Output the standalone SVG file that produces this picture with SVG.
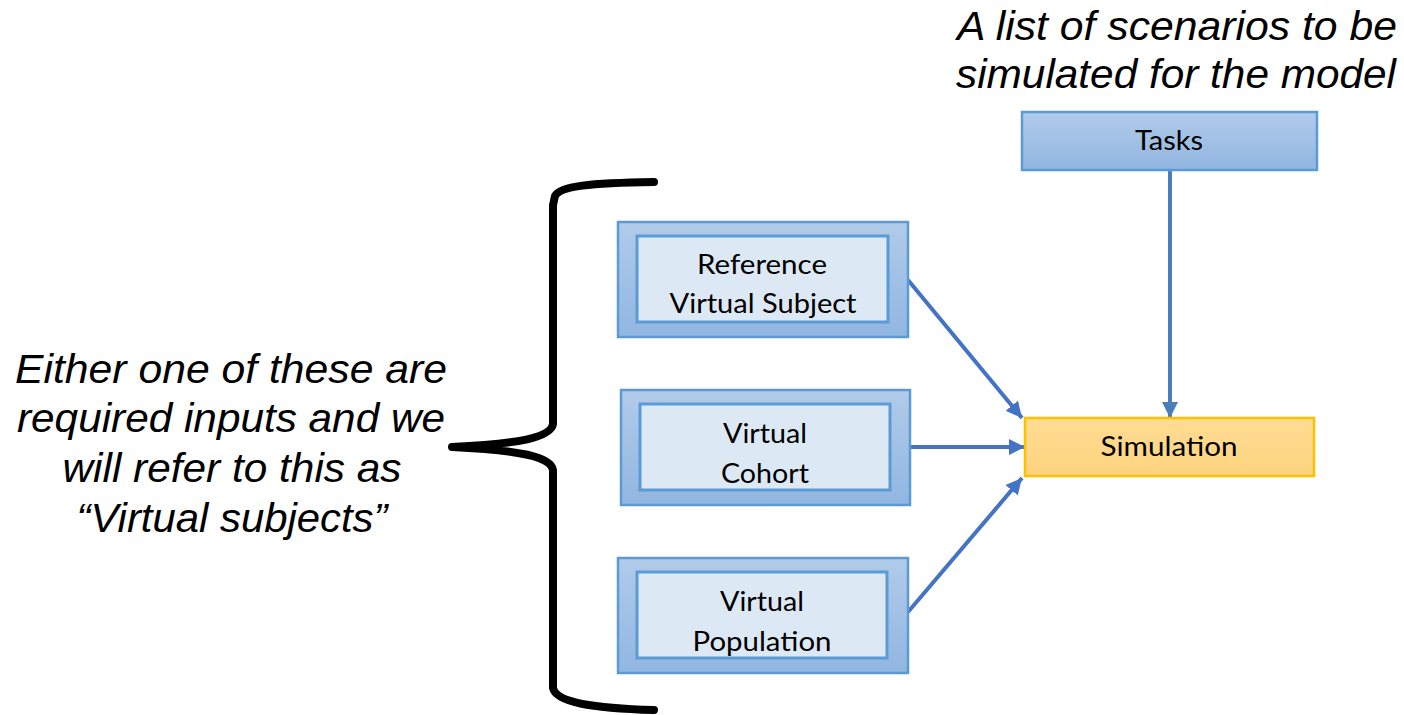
<svg xmlns="http://www.w3.org/2000/svg" width="1404" height="715" viewBox="0 0 1404 715">
  <defs>
    <linearGradient id="blueGrad" x1="0" y1="0" x2="0" y2="1">
      <stop offset="0" stop-color="#b1cbe9"/>
      <stop offset="1" stop-color="#91b6e1"/>
    </linearGradient>
    <linearGradient id="goldGrad" x1="0" y1="0" x2="0" y2="1">
      <stop offset="0" stop-color="#ffdc93"/>
      <stop offset="1" stop-color="#fdd47f"/>
    </linearGradient>
    <marker id="arrowHead" viewBox="0 0 10 10" refX="10" refY="5" markerWidth="4" markerHeight="4" orient="auto" markerUnits="strokeWidth">
      <path d="M0,0 L10,5 L0,10 z" fill="#4472c4"/>
    </marker>
    <marker id="arrowHeadTask" viewBox="0 0 10 10" refX="10" refY="5" markerWidth="4" markerHeight="4" orient="auto" markerUnits="strokeWidth">
      <path d="M0,0 L10,5 L0,10 z" fill="#4a7ebb"/>
    </marker>
    <style>
      .outer { fill: url(#blueGrad); stroke: #5b9bd5; stroke-width: 2.5; }
      .inner { fill: #dde8f5; stroke: #5b9bd5; stroke-width: 3; }
      .task { fill: url(#blueGrad); stroke: #5b9bd5; stroke-width: 2.5; }
      .sim { fill: url(#goldGrad); stroke: #ffc000; stroke-width: 2.5; }
      .lbl { font-family: Lato, "Open Sans", "Liberation Sans", sans-serif; font-size: 26px; fill: #000; text-anchor: middle; }
      .note { font-family: "Liberation Sans", Arial, sans-serif; font-style: italic; font-size: 40px; fill: #000; text-anchor: middle; }
      .link { fill: none; stroke: #4472c4; stroke-width: 4; marker-end: url(#arrowHead); }
      .linkTask { fill: none; stroke: #4a7ebb; stroke-width: 4; marker-end: url(#arrowHeadTask); }
      .brace { fill: none; stroke: #000; stroke-width: 8; stroke-linecap: round; stroke-linejoin: round; }
    </style>
  </defs>

  <!-- annotations -->
  <g id="note-tasks">
    <text class="note" x="1177" y="40" textLength="440" lengthAdjust="spacingAndGlyphs">A list of scenarios to be</text>
    <text class="note" x="1176" y="88" textLength="440" lengthAdjust="spacingAndGlyphs">simulated for the model</text>
  </g>
  <g id="note-subjects">
    <text class="note" x="231" y="383" textLength="432" lengthAdjust="spacingAndGlyphs">Either one of these are</text>
    <text class="note" x="231" y="432" textLength="428" lengthAdjust="spacingAndGlyphs">required inputs and we</text>
    <text class="note" x="232" y="482" textLength="339" lengthAdjust="spacingAndGlyphs">will refer to this as</text>
    <text class="note" x="232" y="532" textLength="311" lengthAdjust="spacingAndGlyphs">“Virtual subjects”</text>
  </g>

  <!-- curly brace grouping the three inputs -->
  <g id="brace">
    <path class="brace" d="M654,182 C590,183 560,186 555,196 L553,205 L553,424 C551,437 520,444 452,447 C520,450 551,457 553,470 L553,688 C556,702 590,708 654,710"/>
  </g>

  <!-- connectors -->
  <g id="connectors">
    <path class="link" d="M908,280 L1022,418"/>
    <path class="link" d="M910,447 L1025,447"/>
    <path class="link" d="M908,612 L1022,478"/>
    <path class="linkTask" d="M1170,170 L1170,418"/>
  </g>

  <!-- nodes -->
  <g id="node-reference">
    <rect class="outer" x="618" y="222" width="290" height="115"/>
    <rect class="inner" x="637" y="236" width="251" height="86"/>
    <text class="lbl" x="762" y="274" textLength="130" lengthAdjust="spacingAndGlyphs">Reference</text>
    <text class="lbl" x="763" y="313" textLength="187" lengthAdjust="spacingAndGlyphs">Virtual Subject</text>
  </g>
  <g id="node-cohort">
    <rect class="outer" x="621" y="390" width="289" height="115"/>
    <rect class="inner" x="640" y="404" width="250" height="86"/>
    <text class="lbl" x="765" y="443" textLength="84" lengthAdjust="spacingAndGlyphs">Virtual</text>
    <text class="lbl" x="765" y="483" textLength="88" lengthAdjust="spacingAndGlyphs">Cohort</text>
  </g>
  <g id="node-population">
    <rect class="outer" x="618" y="558" width="290" height="115"/>
    <rect class="inner" x="637" y="572" width="250" height="86"/>
    <text class="lbl" x="762" y="611" textLength="84" lengthAdjust="spacingAndGlyphs">Virtual</text>
    <text class="lbl" x="762" y="651" textLength="139" lengthAdjust="spacingAndGlyphs">Population</text>
  </g>
  <g id="node-tasks">
    <rect class="task" x="1022" y="112" width="295" height="58"/>
    <text class="lbl" x="1169" y="150" textLength="68" lengthAdjust="spacingAndGlyphs">Tasks</text>
  </g>
  <g id="node-simulation">
    <rect class="sim" x="1025" y="418" width="289" height="58"/>
    <text class="lbl" x="1169" y="456" textLength="137" lengthAdjust="spacingAndGlyphs">Simulation</text>
  </g>
</svg>
